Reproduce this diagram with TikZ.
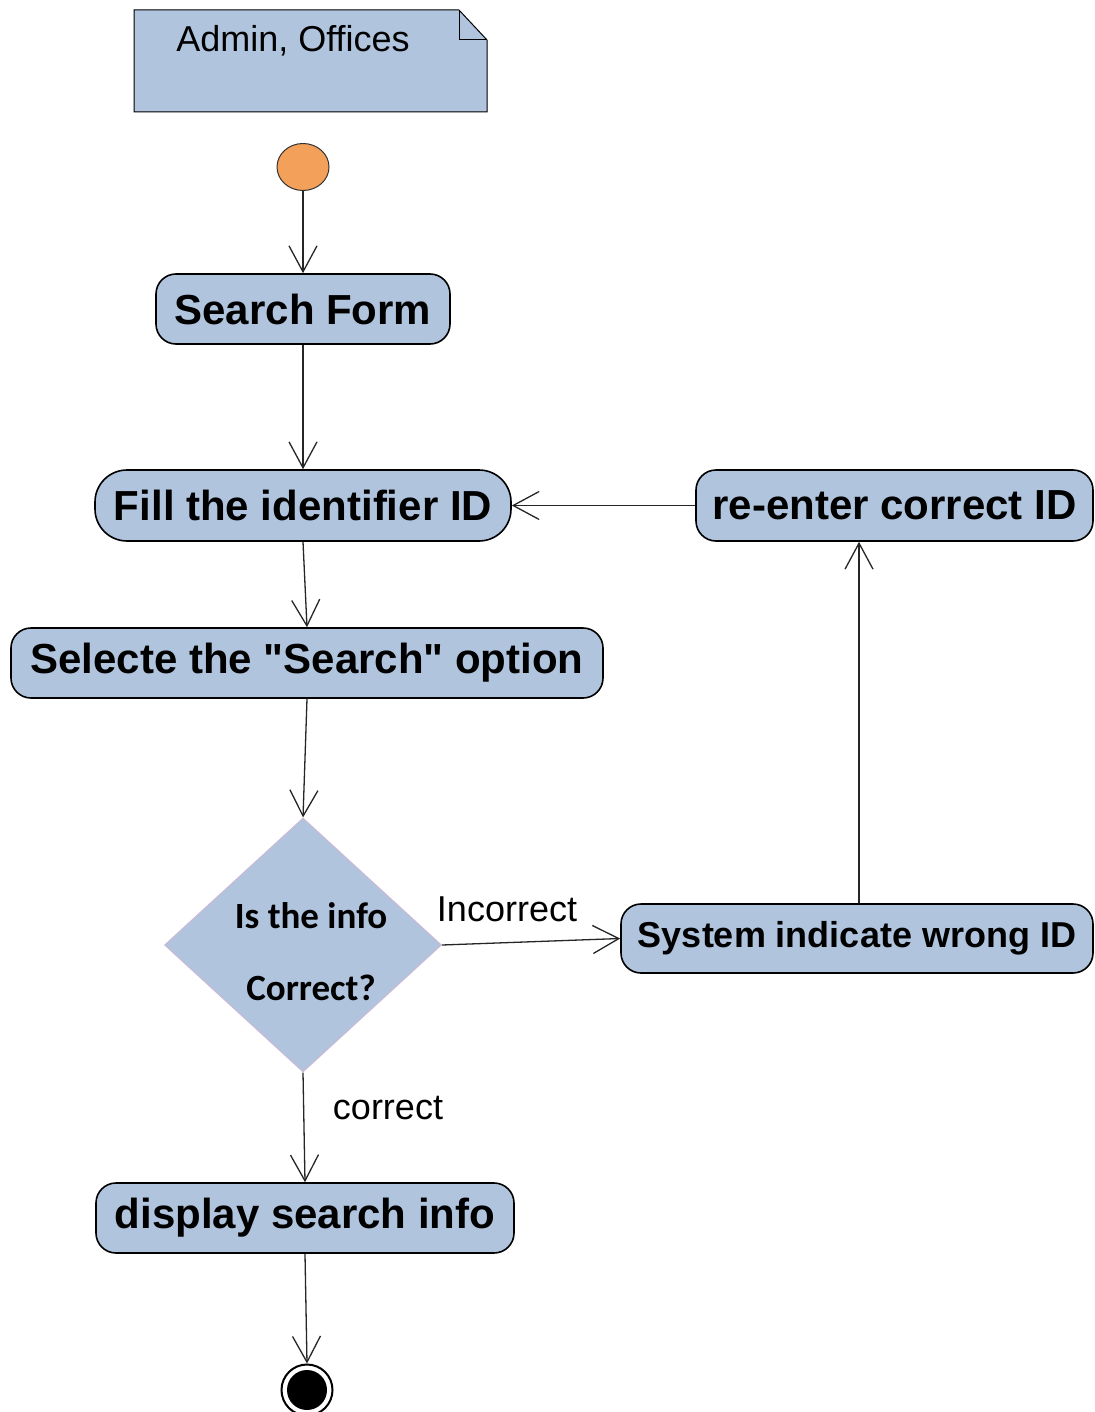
\documentclass[tikz,border=0pt]{standalone}
\usepackage{fontspec}
\setmainfont{Liberation Sans}[Ligatures=TeXOff]
\newfontfamily\calibrilike{Carlito}
\usetikzlibrary{shapes.geometric,arrows.meta}
\definecolor{actfill}{RGB}{176,196,222}
\definecolor{startfill}{RGB}{243,160,90}
\definecolor{decedge}{RGB}{205,185,215}
\tikzset{
  actbox/.style={draw=black, line width=1.6pt, fill=actfill, rounded corners=20pt,
    inner sep=0pt, font=\bfseries\fontsize{42}{50}\selectfont},
  flow/.style={draw=black!85, line width=1.3pt, -{Straight Barb[length=26pt,width=28pt,line width=1.3pt]}},
  plainlabel/.style={inner sep=0pt, font=\fontsize{36}{43}\selectfont},
}
\begin{document}
\begin{tikzpicture}[x=1pt,y=-1pt]
\useasboundingbox (0,0) rectangle (1094,1412);

% swimlane note with folded corner
\draw[fill=actfill, line width=1pt] (134,10) -- (459,10) -- (487,40) -- (487,112) -- (134,112) -- cycle;
\draw[line width=1pt] (459,10) -- (459,40) -- (487,40);
\node[plainlabel, anchor=base] (note) at (293,52) {Admin, Offices};

% initial state
\node[draw=black!80, line width=1pt, fill=startfill, ellipse, inner sep=0pt,
      minimum width=52pt, minimum height=47pt] (start) at (303,167) {};

% activities
\node[actbox, minimum width=294pt, minimum height=70pt] (search) at (303,309) {Search Form};
\node[actbox, rounded corners=32pt, minimum width=416pt, minimum height=71pt] (fill) at (303,505.5) {Fill the identifier ID};
\node[actbox, minimum width=592pt, minimum height=70pt] (select) at (307,663) {Selecte the "Search" option};
\node[actbox, minimum width=397pt, minimum height=71pt] (reenter) at (894.5,505.5) {re-enter correct ID};
\node[actbox, font=\bfseries\fontsize{36}{43}\selectfont, minimum width=472pt, minimum height=69pt] (system) at (857,938.5) {System indicate wrong ID};
\node[actbox, minimum width=418pt, minimum height=70pt] (display) at (305,1218) {display search info};

% decision
\node[diamond, draw=decedge, line width=1pt, fill=actfill, inner sep=0pt, aspect=1.09,
      minimum width=277pt, minimum height=254pt] (check) at (303,945) {};
\node[inner sep=0pt, align=center, font=\calibrilike\bfseries\fontsize{37}{72}\selectfont] (checktext) at (311,952) {Is the info\\Correct?};

% final state
\node[circle, draw=black, line width=2pt, fill=white, minimum size=51pt, inner sep=0pt] (final) at (307,1390) {};
\node[circle, fill=black, minimum size=40pt, inner sep=0pt] (finaldot) at (final) {};

% flows
\draw[flow] (start) -- (search);
\draw[flow] (search.south) -- (fill.north);
\draw[flow] (fill.south) -- (select.north);
\draw[flow] (select.south) -- (check.north);
\draw[flow] (check.east) -- (system.west);
\draw[flow] (system.north -| 859,0) -- (reenter.south -| 859,0);
\draw[flow] (reenter.west) -- (fill.east);
\draw[flow] (check.south) -- (display.north);
\draw[flow] (display.south) -- (final.north);

% guards
\node[plainlabel, anchor=base] (incorrect) at (507,921) {Incorrect};
\node[plainlabel, anchor=base] (correct) at (388,1119) {correct};
\end{tikzpicture}
\end{document}
